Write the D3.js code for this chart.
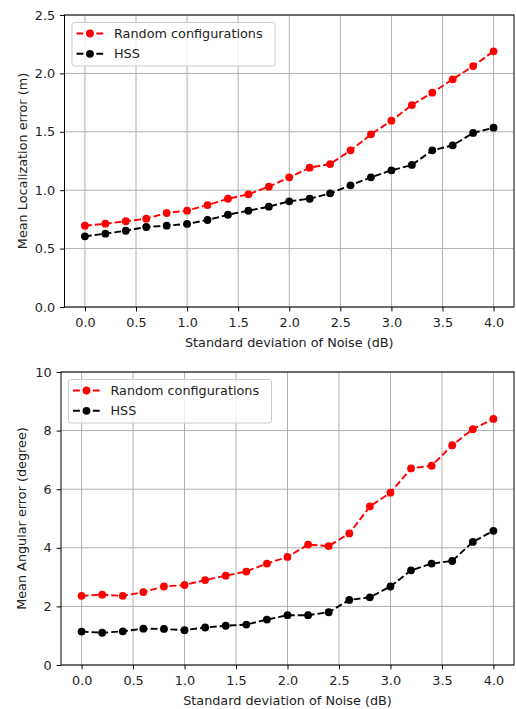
<!DOCTYPE html>
<html><head><meta charset="utf-8">
<script src="https://cdn.jsdelivr.net/npm/d3@7"></script>
<style>body{margin:0;background:#fff}svg{display:block}text{font-family:"DejaVu Sans",sans-serif}</style>
</head><body><svg id="c" width="516" height="709"></svg>
<script>
const noise = [0.0,0.2,0.4,0.6,0.8,1.0,1.2,1.4,1.6,1.8,2.0,2.2,2.4,2.6,2.8,3.0,3.2,3.4,3.6,3.8,4.0];
const locRandom = [0.696,0.713,0.734,0.756,0.805,0.825,0.873,0.927,0.965,1.030,1.110,1.193,1.224,1.341,1.478,1.595,1.729,1.835,1.949,2.063,2.189];
const locHSS = [0.605,0.628,0.653,0.685,0.696,0.711,0.745,0.790,0.825,0.859,0.905,0.927,0.973,1.042,1.110,1.170,1.216,1.341,1.384,1.490,1.535];
const angRandom = [2.36,2.40,2.36,2.49,2.68,2.73,2.90,3.05,3.19,3.46,3.69,4.11,4.06,4.49,5.41,5.88,6.71,6.80,7.50,8.05,8.40];
const angHSS = [1.14,1.10,1.15,1.24,1.23,1.19,1.28,1.34,1.38,1.55,1.70,1.70,1.80,2.22,2.31,2.68,3.23,3.46,3.55,4.20,4.58];
const xTicks = [0.0,0.5,1.0,1.5,2.0,2.5,3.0,3.5,4.0];
const locTicks = [0.0,0.5,1.0,1.5,2.0,2.5];
const angTicks = [0,2,4,6,8,10];
const seriesNames = ["Random configurations","HSS"];
const seriesColors = ["#ff0000","#000000"];

const svg = d3.select("#c");
const FS = 12.8, TXT = "#222";
const DASH = "6.9,3";

function panel(o){
  const g = svg.append("g");
  const x = d3.scaleLinear().domain([-0.2,4.2]).range([o.left,o.right]);
  const y = d3.scaleLinear().domain(o.ydom).range([o.bottom,o.top]);
  g.append("g").selectAll("line").data(xTicks).join("line")
    .attr("x1",d=>x(d)).attr("x2",d=>x(d)).attr("y1",o.top).attr("y2",o.bottom)
    .attr("stroke","#b0b0b0").attr("stroke-width",1);
  g.append("g").selectAll("line").data(o.yticks).join("line")
    .attr("y1",d=>y(d)).attr("y2",d=>y(d)).attr("x1",o.left).attr("x2",o.right)
    .attr("stroke","#b0b0b0").attr("stroke-width",1);
  const xa = g.append("g").attr("transform",`translate(0,${o.bottom})`)
    .call(d3.axisBottom(x).tickValues(xTicks).tickFormat(d3.format(".1f")).tickSize(4.4).tickPadding(6.5));
  const ya = g.append("g").attr("transform",`translate(${o.left},0)`)
    .call(d3.axisLeft(y).tickValues(o.yticks).tickFormat(o.yfmt).tickSize(4.4).tickPadding(5));
  [xa,ya].forEach(a=>{
    a.select(".domain").remove();
    a.selectAll("line").attr("stroke","#000").attr("stroke-width",1);
    a.selectAll("text").attr("font-size",FS).attr("fill",TXT).attr("font-family","DejaVu Sans");
  });
  g.append("rect").attr("x",o.left).attr("y",o.top).attr("width",o.right-o.left).attr("height",o.bottom-o.top)
    .attr("fill","none").attr("stroke","#000").attr("stroke-width",1);
  const line = d3.line().x((d,i)=>x(noise[i])).y(d=>y(d));
  o.series.forEach((s,k)=>{
    g.append("path").attr("d",line(s)).attr("fill","none").attr("stroke",seriesColors[k])
      .attr("stroke-width",1.9).attr("stroke-dasharray",DASH);
    g.append("g").selectAll("circle").data(s).join("circle")
      .attr("cx",(d,i)=>x(noise[i])).attr("cy",d=>y(d)).attr("r",3.9).attr("fill",seriesColors[k]);
  });
  g.append("text").attr("x",(o.left+o.right)/2).attr("y",o.xlabelY).attr("text-anchor","middle")
    .attr("font-size",FS).attr("fill",TXT).text("Standard deviation of Noise (dB)");
  g.append("text").attr("transform",`translate(${o.ylabelX},${(o.top+o.bottom)/2}) rotate(-90)`)
    .attr("text-anchor","middle").attr("font-size",FS).attr("fill",TXT).text(o.ylabel);
  const lx = o.left+7, ly = o.top+7;
  g.append("rect").attr("x",lx+0.5).attr("y",ly+0.5).attr("width",203).attr("height",43.5).attr("rx",2.5)
    .attr("fill","#fff").attr("fill-opacity",0.8).attr("stroke","#cccccc").attr("stroke-width",1);
  seriesNames.forEach((n,k)=>{
    const yy = ly+11.5+k*20.3;
    g.append("line").attr("x1",lx+5).attr("x2",lx+32).attr("y1",yy).attr("y2",yy)
      .attr("stroke",seriesColors[k]).attr("stroke-width",1.9).attr("stroke-dasharray",DASH);
    g.append("circle").attr("cx",lx+18.5).attr("cy",yy).attr("r",3.9).attr("fill",seriesColors[k]);
    g.append("text").attr("x",lx+42.5).attr("y",yy+4.6).attr("font-size",FS).attr("fill",TXT).text(n);
  });
}

panel({left:64.5,right:514,top:15,bottom:307,ydom:[0,2.5],yticks:locTicks,yfmt:d3.format(".1f"),
  series:[locRandom,locHSS],ylabel:"Mean Localization error (m)",ylabelX:26.5,xlabelY:346.5});
panel({left:61,right:514,top:372,bottom:665,ydom:[0,10],yticks:angTicks,yfmt:d3.format("d"),
  series:[angRandom,angHSS],ylabel:"Mean Angular error (degree)",ylabelX:25.5,xlabelY:704.5});
</script></body></html>
